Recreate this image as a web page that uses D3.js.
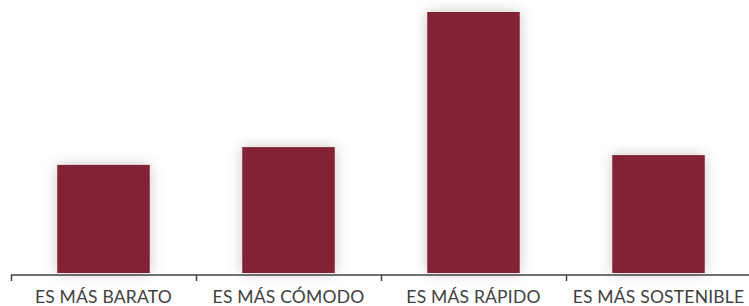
<!DOCTYPE html>
<html>
<head>
<meta charset="utf-8">
<script src="https://cdn.jsdelivr.net/npm/d3@7"></script>
<style>
  html, body { margin: 0; padding: 0; background: #fff; }
  svg { display: block; }
</style>
</head>
<body>
<div id="chart"></div>
<script>
const categories = ["ES MÁS BARATO", "ES MÁS CÓMODO", "ES MÁS RÁPIDO", "ES MÁS SOSTENIBLE"];
const values = [17.6, 20.5, 42.5, 19.2];

const svgWidth = 749;
const svgHeight = 306;
const baseY = 274;

const svg = d3.select("#chart")
    .append("svg")
    .attr("width", svgWidth)
    .attr("height", svgHeight);

// soft shadow round the bars
const filter = svg.append("defs")
    .append("filter")
    .attr("id", "glow")
    .attr("x", "-30%").attr("y", "-30%")
    .attr("width", "160%").attr("height", "160%");
filter.append("feDropShadow")
    .attr("dx", 0).attr("dy", 0)
    .attr("stdDeviation", 7)
    .attr("flood-color", "#000")
    .attr("flood-opacity", 0.22);

const xScale = d3.scaleBand()
    .domain(categories)
    .range([11, 751])
    .paddingInner(0.5)
    .paddingOuter(0.25);

const yScale = d3.scaleLinear()
    .domain([0, d3.max(values)])
    .range([baseY - 1, 12]);

const data = categories.map((c, i) => ({ cat: c, value: values[i] }));

svg.selectAll(".bar")
    .data(data)
    .join("rect")
    .attr("class", "bar")
    .attr("x", d => xScale(d.cat))
    .attr("y", d => yScale(d.value))
    .attr("width", xScale.bandwidth())
    .attr("height", d => yScale(0) - yScale(d.value))
    .attr("fill", "#842335")
    .attr("filter", "url(#glow)");

// x axis: ticks sit on band edges, pointing down
const bandEdges = d3.range(categories.length + 1).map(i => 11 + i * xScale.step());

const axis = svg.append("g").attr("class", "x-axis");
axis.append("line")
    .attr("x1", bandEdges[0])
    .attr("x2", svgWidth)
    .attr("y1", baseY + 1)
    .attr("y2", baseY + 1)
    .attr("stroke", "#404040")
    .attr("stroke-width", 1.5);

axis.selectAll(".tick")
    .data(bandEdges)
    .join("line")
    .attr("class", "tick")
    .attr("x1", d => d + 0.5)
    .attr("x2", d => d + 0.5)
    .attr("y1", baseY + 1)
    .attr("y2", baseY + 7)
    .attr("stroke", "#404040")
    .attr("stroke-width", 1.5);

axis.selectAll(".label")
    .data(categories)
    .join("text")
    .attr("class", "label")
    .attr("x", d => xScale(d) + xScale.bandwidth() / 2)
    .attr("y", 303)
    .attr("text-anchor", "middle")
    .attr("fill", "#404040")
    .style("font-family", "Lato, 'Open Sans', sans-serif")
    .style("font-size", "17.5px")
    .style("letter-spacing", "0.2px")
    .text(d => d);
</script>
</body>
</html>
